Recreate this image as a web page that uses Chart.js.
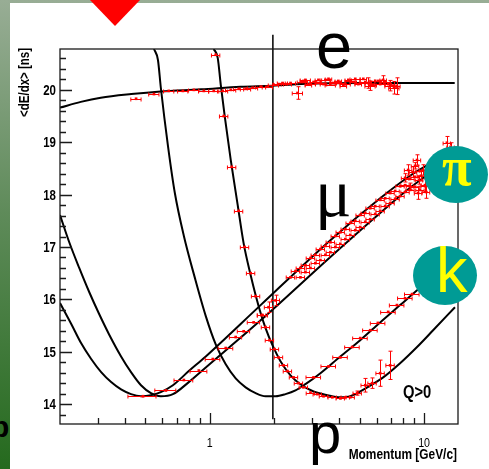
<!DOCTYPE html>
<html>
<head>
<meta charset="utf-8">
<script src="https://cdn.jsdelivr.net/npm/chart.js@4.4.0/dist/chart.umd.min.js"></script>
<style>
  html, body { margin: 0; padding: 0; }
  body {
    width: 489px; height: 469px; position: relative; overflow: hidden;
    background: linear-gradient(#98ad95, #5f8b5a 45%, #256a1e);
  }
  #sheet { position: absolute; left: 10px; top: 3px; right: 0; bottom: 0; background: #fff; }
  #dedx { position: absolute; left: 0; top: 0; }
  .lbl { position: absolute; line-height: 1; white-space: nowrap; color: #000; }
  .big { font-family: 'Liberation Sans', Arial, sans-serif; }
  .greek { font-family: 'Liberation Serif', 'Times New Roman', serif; }
  .narrow { font-family: 'Liberation Sans', Arial, sans-serif; font-weight: bold;
            transform: scaleX(0.82); transform-origin: 0 0; }
  .badge { position: absolute; border-radius: 50%; background: #009b95; }
  .badge span { position: absolute; line-height: 1; color: #ffff00; }
  #marker { position: absolute; left: 90px; top: 0; width: 50px; height: 26px; background: #ff0000;
            clip-path: polygon(0 0, 100% 0, 50% 100%); }
</style>
</head>
<body>
<div class="lbl big" style="left:-9px; top:412px; font-size:30px; font-weight:bold;">p</div>
<div id="sheet"></div>
<canvas id="dedx" width="489" height="469"></canvas>
<div id="marker"></div>
<div class="lbl big" style="left:316px; top:13px; font-size:65px;">e</div>
<div class="lbl greek" style="left:315px; top:159px; font-size:68px;">μ</div>
<div class="lbl big" style="left:309px; top:404px; font-size:58px;">p</div>
<div class="lbl narrow" style="left:403px; top:383px; font-size:18px;">Q&gt;0</div>
<div class="badge" style="left:424px; top:146px; width:64px; height:57px;">
  <span class="greek" style="left:18px; top:-6px; font-size:54px; font-weight:bold;">π</span>
</div>
<div class="badge" style="left:413px; top:246px; width:64px; height:59px;">
  <span class="big" style="left:23px; top:-7px; font-size:63px;">k</span>
</div>
<script>
// axis labels
const xTickLabels = [1, 10];
const yTickLabels = [14, 15, 16, 17, 18, 19, 20];

// expected <dE/dx> curves, momentum in GeV/c, dE/dx in ns
const eCurveP = [0.2, 0.25, 0.31, 0.43, 0.59, 0.91, 1.39, 1.96, 2.95, 5.0, 13.9];
const eCurveV = [19.66, 19.77, 19.85, 19.92, 19.97, 20.01, 20.06, 20.08, 20.12, 20.13, 20.13];

const muCurveP = [0.2, 0.2257, 0.2512, 0.2796, 0.3112, 0.3464, 0.3855, 0.429, 0.4775, 0.5315, 0.591, 0.673, 0.798, 0.958, 1.727, 3.655, 6.24, 8.605, 11.86];
const muCurveV = [15.93, 15.53, 15.16, 14.86, 14.61, 14.42, 14.28, 14.19, 14.15, 14.17, 14.23, 14.36, 14.63, 14.91, 15.89, 17.13, 17.93, 18.36, 18.70];

const piCurveP = [0.2, 0.2209, 0.2459, 0.2737, 0.3046, 0.339, 0.3855, 0.429, 0.4775, 0.5315, 0.591, 0.673, 0.798, 0.958, 1.727, 3.655, 6.24, 8.605, 11.86];
const piCurveV = [17.61, 17.09, 16.60, 16.14, 15.72, 15.33, 14.91, 14.61, 14.36, 14.21, 14.15, 14.19, 14.42, 14.70, 15.60, 16.81, 17.65, 18.13, 18.55];

const kCurveP = [0.549, 0.573, 0.591, 0.638, 0.687, 0.757, 0.852, 0.958, 1.066, 1.187, 1.321, 1.470, 1.637, 1.821, 2.027, 2.257, 2.512, 2.795, 3.283, 4.066, 5.036, 6.24, 7.73, 9.078, 11.86];
const kCurveV = [20.78, 20.57, 20.04, 18.93, 18.03, 17.21, 16.41, 15.68, 15.14, 14.76, 14.49, 14.32, 14.21, 14.15, 14.15, 14.19, 14.26, 14.38, 14.59, 14.91, 15.22, 15.56, 15.89, 16.14, 16.54];

const pCurveP = [1.044, 1.089, 1.125, 1.174, 1.253, 1.350, 1.439, 1.552, 1.637, 1.727, 1.821, 1.963, 2.138, 2.381, 2.649, 3.05, 3.543, 4.066, 4.525, 5.432, 6.446, 7.73, 9.274, 11.02, 13.94];
const pCurveV = [20.78, 20.61, 20.10, 19.50, 18.66, 17.80, 17.07, 16.46, 16.08, 15.74, 15.45, 15.12, 14.82, 14.55, 14.38, 14.24, 14.17, 14.13, 14.15, 14.32, 14.51, 14.78, 15.09, 15.41, 15.85];

// cut at 2 GeV/c
const cutP = 1.97;
const cutRange = [21.05, 13.71];

// measured points
const eP = [0.453, 0.549, 0.644, 0.749, 0.843, 0.938, 1.044, 1.149, 1.253, 1.364, 1.470, 1.585, 1.727, 1.859, 1.984, 2.094, 2.186, 2.281, 2.381, 2.567,
            2.707, 2.795, 2.951, 3.11, 3.283, 3.464, 3.655, 3.855, 4.066, 4.291, 4.525, 4.775, 5.036, 5.317, 5.605, 5.916, 6.24, 6.585, 6.946, 7.24];
const eV = [19.83, 19.92, 19.98, 19.98, 20.00, 19.98, 19.98, 19.98, 20.00, 20.02, 20.02, 20.04, 20.06, 20.06, 20.10, 20.11, 20.13, 20.11, 20.13, 19.94,
            20.15, 20.19, 20.11, 20.15, 20.13, 20.19, 20.10, 20.15, 20.13, 20.11, 20.17, 20.21, 20.13, 20.15, 20.08, 20.17, 20.11, 20.15, 20.08, 20.04];
const eErrV = [0, 0, 0, 0, 0, 0, 0, 0, 0, 0, 0, 0, 0, 0, 0, 0, 0, 0, 0, 0.12,
               0, 0, 0, 0, 0, 0, 0, 0, 0, 0, 0, 0, 0, 0, 0.09, 0, 0, 0, 0.10, 0.12];

const eDenseP = [2.736, 2.887, 3.05, 3.214, 3.395, 3.582, 3.77, 3.981, 4.202, 4.431, 4.675, 4.932, 5.204, 5.49, 5.792, 6.11, 6.446, 6.80, 7.17, 7.47];
const eDenseV = [20.17, 20.10, 20.15, 20.19, 20.11, 20.21, 20.13, 20.17, 20.08, 20.19, 20.15, 20.11, 20.21, 20.13, 20.10, 20.17, 20.19, 20.11, 20.08, 20.07];
const eDenseErrV = [0, 0, 0, 0, 0, 0, 0, 0, 0, 0, 0, 0, 0, 0.10, 0, 0, 0.08, 0, 0, 0.16];

const piLowP = [0.488, 0.624, 0.757, 0.889, 1.033, 1.187, 1.321, 1.439, 1.602, 1.763, 1.88, 2.027];
const piLowV = [14.15, 14.26, 14.46, 14.64, 14.86, 15.07, 15.28, 15.39, 15.56, 15.70, 15.85, 15.98];
const piLowErrP = [0.073, 0.07, 0.076, 0.08, 0.081, 0.093, 0.087, 0.095, 0.106, 0.097, 0.083, 0.089];
const piLowErrV = [0, 0, 0, 0, 0, 0, 0, 0, 0, 0, 0.10, 0.10];

const muBandP = [2.381, 2.512, 2.649, 2.795, 2.951, 3.11, 3.283, 3.464, 3.655, 3.855, 4.066, 4.291, 4.525, 4.775, 5.036, 5.317, 5.605, 5.916, 6.24, 6.585, 6.946, 7.33, 7.73, 8.158, 8.605, 9.08, 9.577];
const muBandV = [16.42, 16.54, 16.60, 16.65, 16.79, 16.85, 16.96, 17.02, 17.09, 17.21, 17.28, 17.34, 17.46, 17.50, 17.61, 17.65, 17.74, 17.78, 17.90, 17.93, 18.03, 18.07, 18.16, 18.18, 18.30, 18.34, 18.45];

const piBandP = [2.649, 2.795, 2.951, 3.11, 3.283, 3.464, 3.655, 3.855, 4.066, 4.291, 4.525, 4.775, 5.036, 5.317, 5.605, 5.916, 6.24, 6.585, 6.946, 7.33, 7.73, 8.158, 8.605, 9.08, 9.577, 10.11];
const piBandV = [16.42, 16.52, 16.60, 16.69, 16.75, 16.85, 16.90, 17.00, 17.06, 17.15, 17.23, 17.32, 17.38, 17.48, 17.53, 17.63, 17.69, 17.78, 17.84, 17.92, 17.97, 18.05, 18.09, 18.15, 18.09, 18.16];

const piHighP = [8.43, 9.08, 9.68, 10.1, 9.38, 12.78, 13.3, 8.158, 8.605, 8.884, 9.478, 9.89, 10.22, 9.27];
const piHighV = [18.47, 18.55, 18.36, 18.18, 18.03, 18.99, 18.91, 18.32, 18.16, 18.43, 18.28, 18.47, 18.05, 18.66];
const piHighErrV = [0.10, 0.06, 0.10, 0.12, 0.12, 0.12, 0.08, 0.08, 0.06, 0.10, 0.08, 0.10, 0.12, 0.10];

const kP = [3.05, 3.582, 4.066, 4.621, 5.036, 5.605, 6.089, 6.802, 7.471, 8.158, 8.79];
const kV = [14.51, 14.72, 14.89, 15.09, 15.26, 15.41, 15.55, 15.76, 15.89, 16.02, 16.10];

const protonP = [1.066, 1.162, 1.266, 1.364, 1.454, 1.552, 1.637, 1.745, 1.821, 1.90, 2.005, 2.094, 2.209, 2.305, 2.46, 2.595, 2.736, 2.951, 3.177,
                 3.395, 3.731, 4.066, 4.291, 4.525, 4.88, 5.317, 5.723, 6.24, 6.946];
const protonV = [20.67, 19.50, 18.53, 17.69, 17.00, 16.50, 16.06, 15.70, 15.47, 15.22, 15.05, 14.89, 14.74, 14.63, 14.51, 14.40, 14.32, 14.22, 14.19,
                 14.15, 14.13, 14.11, 14.13, 14.13, 14.21, 14.36, 14.40, 14.59, 14.74];
const protonErrV = [0, 0, 0, 0, 0, 0, 0, 0, 0, 0, 0, 0, 0, 0, 0, 0, 0, 0, 0,
                    0, 0, 0, 0, 0, 0.04, 0.13, 0.10, 0.25, 0.27];

const RED = '#ff0000';
const SANS = "'Liberation Sans', Arial, sans-serif";

const pts = (P, V) => P.map((p, i) => ({ x: p, y: V[i] }));

const curva = (P, V) => ({
    data: pts(P, V),
    showLine: true,
    pointRadius: 0,
    borderColor: '#000',
    borderWidth: 2,
    cubicInterpolationMode: 'monotone',
    order: 2
});

// log bins: half width as a fraction of momentum unless given per point
const medidas = (P, V, binFrac, errV, errP) => ({
    data: pts(P, V),
    pointStyle: 'rect',
    pointRadius: 1.9,
    backgroundColor: RED,
    borderWidth: 0,
    xErr: errP || P.map(p => p * binFrac),
    yErr: errV || null,
    order: 0
});

// narrow bold text, like the plot's Helvetica Narrow
const textoEstrecho = (ctx, txt, x, y, size, weight, align, rot) => {
    ctx.save();
    ctx.translate(x, y);
    if (rot) ctx.rotate(rot);
    ctx.scale(0.82, 1);
    ctx.font = `${weight} ${size}px ${SANS}`;
    ctx.fillStyle = '#000';
    ctx.textAlign = align;
    ctx.textBaseline = 'alphabetic';
    ctx.fillText(txt, 0, 0);
    ctx.restore();
};

const marcoEjes = {
    id: 'marcoEjes',
    afterDatasetsDraw(chart) {
        const { ctx, chartArea: a, scales: { x, y } } = chart;
        ctx.save();
        ctx.strokeStyle = '#1a1a1a';
        ctx.lineWidth = 1.3;
        ctx.strokeRect(a.left, a.top, a.right - a.left, a.bottom - a.top);

        ctx.beginPath();
        for (let v = 13.8; v < y.max; v += 0.2) {
            const yy = Math.round(y.getPixelForValue(v)) + 0.5;
            const major = Math.abs(v - Math.round(v)) < 0.01;
            ctx.moveTo(a.left, yy);
            ctx.lineTo(a.left + (major ? 12 : 6), yy);
        }
        for (let dec = 0.1; dec < x.max; dec *= 10) {
            for (let k = 1; k <= 9; k++) {
                const v = dec * k;
                if (v <= x.min || v >= x.max) continue;
                const xx = Math.round(x.getPixelForValue(v)) + 0.5;
                ctx.moveTo(xx, a.bottom);
                ctx.lineTo(xx, a.bottom - (k === 1 ? 11 : 6));
            }
        }
        ctx.stroke();
        ctx.restore();
    },
    afterDraw(chart) {
        const { ctx, chartArea: a, scales: { x, y } } = chart;
        yTickLabels.forEach(v => {
            textoEstrecho(ctx, String(v), a.left - 4, y.getPixelForValue(v) + 5, 14, 'bold', 'right');
        });
        xTickLabels.forEach(v => {
            textoEstrecho(ctx, String(v), x.getPixelForValue(v), a.bottom + 23, 13, 'normal', 'center');
        });
        textoEstrecho(ctx, 'Momentum [GeV/c]', a.right - 1, 459, 14.5, 'bold', 'right');
        textoEstrecho(ctx, '<dE/dx> [ns]', 29, a.top - 1, 14, 'bold', 'right', -Math.PI / 2);
    }
};

const barrasError = {
    id: 'barrasError',
    afterDatasetsDraw(chart) {
        const { ctx, chartArea: a, scales: { x, y } } = chart;
        ctx.save();
        ctx.beginPath();
        ctx.rect(a.left, a.top, a.right - a.left, a.bottom - a.top);
        ctx.clip();
        ctx.strokeStyle = RED;
        ctx.lineWidth = 1;
        chart.data.datasets.forEach(ds => {
            if (!ds.xErr) return;
            ds.data.forEach((pt, i) => {
                const px = x.getPixelForValue(pt.x);
                const py = Math.round(y.getPixelForValue(pt.y)) + 0.5;
                const x0 = x.getPixelForValue(pt.x - ds.xErr[i]);
                const x1 = x.getPixelForValue(pt.x + ds.xErr[i]);
                ctx.beginPath();
                ctx.moveTo(x0, py); ctx.lineTo(x1, py);
                ctx.moveTo(x0, py - 2); ctx.lineTo(x0, py + 2);
                ctx.moveTo(x1, py - 2); ctx.lineTo(x1, py + 2);
                const ey = ds.yErr ? ds.yErr[i] : 0;
                if (ey) {
                    const y0 = y.getPixelForValue(pt.y - ey);
                    const y1 = y.getPixelForValue(pt.y + ey);
                    const cx = Math.round(px) + 0.5;
                    ctx.moveTo(cx, y0); ctx.lineTo(cx, y1);
                    ctx.moveTo(cx - 2, y0); ctx.lineTo(cx + 2, y0);
                    ctx.moveTo(cx - 2, y1); ctx.lineTo(cx + 2, y1);
                }
                ctx.stroke();
            });
        });
        ctx.restore();
    }
};

new Chart(document.getElementById('dedx'), {
    type: 'scatter',
    data: {
        datasets: [
            curva(eCurveP, eCurveV),
            curva(muCurveP, muCurveV),
            curva(piCurveP, piCurveV),
            curva(kCurveP, kCurveV),
            curva(pCurveP, pCurveV),
            {
                data: cutRange.map(v => ({ x: cutP, y: v })),
                showLine: true,
                pointRadius: 0,
                borderColor: '#000',
                borderWidth: 1.5,
                clip: false,
                order: 3
            },
            medidas(eP, eV, 0.055, eErrV),
            medidas(eDenseP, eDenseV, 0.035, eDenseErrV),
            medidas(piLowP, piLowV, 0, piLowErrV, piLowErrP),
            medidas(muBandP, muBandV, 0.045),
            medidas(piBandP, piBandV, 0.045),
            medidas(piHighP, piHighV, 0.04, piHighErrV),
            medidas(kP, kV, 0.078),
            medidas(protonP, protonV, 0.045, protonErrV)
        ]
    },
    options: {
        responsive: false,
        animation: false,
        devicePixelRatio: 1,
        layout: { padding: { left: 0, top: 49, right: 31, bottom: 0 } },
        plugins: { legend: { display: false }, tooltip: { enabled: false } },
        scales: {
            x: {
                type: 'logarithmic',
                min: 0.2,
                max: 14.4,
                afterFit: s => { s.height = 45; },
                afterBuildTicks: s => { s.ticks = xTickLabels.map(v => ({ value: v })); },
                grid: { display: false, drawTicks: false },
                border: { display: false },
                ticks: { display: false }
            },
            y: {
                min: 13.62,
                max: 20.78,
                afterFit: s => { s.width = 60; },
                afterBuildTicks: s => { s.ticks = yTickLabels.map(v => ({ value: v })); },
                grid: { display: false, drawTicks: false },
                border: { display: false },
                ticks: { display: false }
            }
        }
    },
    plugins: [marcoEjes, barrasError]
});
</script>
</body>
</html>
